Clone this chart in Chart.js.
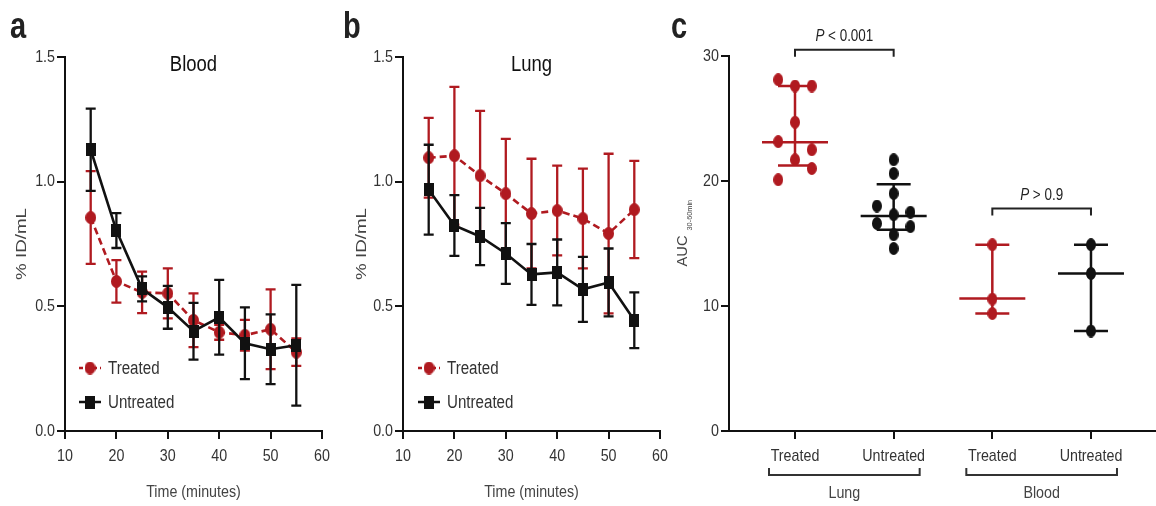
<!DOCTYPE html>
<html><head><meta charset="utf-8">
<script src="https://cdn.jsdelivr.net/npm/chart.js@4.4.1/dist/chart.umd.min.js"></script>
<style>
html,body{margin:0;padding:0;background:#fff;width:1156px;height:506px;overflow:hidden;}
#wrap{position:relative;width:1156px;height:506px;}
canvas{position:absolute;left:0;top:0;}
.lbl{position:absolute;font-family:"Liberation Sans",Arial,sans-serif;font-weight:bold;font-size:29px;line-height:30px;color:#222;transform:scaleY(1.3);transform-origin:top left;}
</style></head>
<body><div id="wrap">
<canvas id="ca" width="1156" height="506"></canvas>
<canvas id="cb" width="1156" height="506"></canvas>
<canvas id="cc" width="1156" height="506"></canvas>
<div class="lbl" style="left:10px;top:5px">a</div>
<div class="lbl" style="left:343px;top:5px">b</div>
<div class="lbl" style="left:671px;top:5px">c</div>
</div>
<script>
// ---------- DATA ----------
const timeMinutes = [15, 20, 25, 30, 35, 40, 45, 50, 55];
const timeTicks = [10, 20, 30, 40, 50, 60];
const pctTicks = [0.0, 0.5, 1.0, 1.5];

const bloodTreatedMean   = [0.856, 0.600, 0.556, 0.552, 0.444, 0.396, 0.384, 0.408, 0.316];
const bloodTreatedErr    = [0.186, 0.085, 0.083, 0.100, 0.108, 0.030, 0.062, 0.160, 0.055];
const bloodUntreatedMean = [1.128, 0.804, 0.570, 0.496, 0.400, 0.456, 0.352, 0.328, 0.344];
const bloodUntreatedErr  = [0.165, 0.070, 0.050, 0.086, 0.114, 0.150, 0.144, 0.140, 0.242];

const lungTreatedMean    = [1.096, 1.104, 1.024, 0.952, 0.872, 0.884, 0.852, 0.792, 0.888];
const lungTreatedErr     = [0.160, 0.276, 0.260, 0.220, 0.220, 0.180, 0.200, 0.320, 0.195];
const lungUntreatedMean  = [0.968, 0.824, 0.780, 0.712, 0.628, 0.636, 0.568, 0.596, 0.444];
const lungUntreatedErr   = [0.180, 0.122, 0.115, 0.122, 0.122, 0.132, 0.130, 0.136, 0.112];

const aucGroups = ['Treated', 'Untreated', 'Treated', 'Untreated'];
const aucOrgans = ['Lung', 'Blood'];
const aucTicks = [0, 10, 20, 30];
const aucLungTreated    = [28.1, 27.6, 27.6, 24.7, 23.15, 22.5, 21.7, 21.0, 20.1];
const aucLungUntreated  = [21.7, 20.6, 19.0, 18.0, 17.3, 16.6, 17.5, 16.35, 15.7, 14.6];
const aucBloodTreated   = [14.9, 10.55, 9.4];
const aucBloodUntreated = [14.9, 12.6, 8.0];
const aucMedian = [23.1, 17.2, 10.6, 12.6];
const aucLower  = [21.25, 16.1, 9.4, 8.0];
const aucUpper  = [27.6, 19.75, 14.9, 14.9];
const pValueText = ['< 0.001', '> 0.9'];

// ---------- LAYOUT / STYLE ----------
const lungTreatedLane   = [-1, 0, 1, 0, -1, 1, 0, 1, -1];
const lungUntreatedLane = [0, 0, 0, -1, 0, -1, 1, 1, 0, 0];
const bloodLane = [0, 0, 0];
const LANE = 0.17;
const RED = '#b01a20';
const BLK = '#111111';
const TXT = '#333333';
const FONT = '"Liberation Sans",Arial,sans-serif';
const NARROW = 0.84;     // condensed look of horizontal text
const ROT_STRETCH = 1.25; // rotated labels look elongated
Chart.defaults.font.family = FONT;
Chart.defaults.color = TXT;

// Condensed rendering of canvas text (the reference uses a narrow face).
const _fillText = CanvasRenderingContext2D.prototype.fillText;
CanvasRenderingContext2D.prototype.fillText = function (t, x, y, mw) {
  const m = this.getTransform();
  const rotated = Math.abs(m.b) > Math.abs(m.a);
  const sx = rotated ? (this.__rotStretch || ROT_STRETCH) : NARROW;
  this.save();
  this.translate(x, y);
  this.scale(sx, 1);
  if (mw === undefined) _fillText.call(this, t, 0, 0);
  else _fillText.call(this, t, 0, 0, mw / sx);
  this.restore();
};

function makeMarker(shape, w, h, color) {
  const c = document.createElement('canvas');
  c.width = w; c.height = h;
  const g = c.getContext('2d');
  g.fillStyle = color;
  if (shape === 'ellipse') { g.beginPath(); g.ellipse(w/2, h/2, w/2, h/2, 0, 0, Math.PI*2); g.fill(); }
  else g.fillRect(0, 0, w, h);
  return c;
}
const redDot = makeMarker('ellipse', 11, 13, RED);
const blkSq = makeMarker('rect', 10, 13, BLK);
const redDotC = makeMarker('ellipse', 10, 13, RED);
const blkDotC = makeMarker('ellipse', 10, 13, BLK);

const errorBars = {
  id: 'errorBars',
  beforeDatasetDraw(chart, args) {
    const ds = chart.data.datasets[args.index];
    if (!ds.errors) return;
    const {ctx} = chart; const xs = chart.scales.x, ys = chart.scales.y;
    ctx.save();
    ctx.strokeStyle = ds.borderColor; ctx.lineWidth = 2.3; ctx.setLineDash([]);
    ds.data.forEach((p, i) => {
      const x = xs.getPixelForValue(p.x);
      const yt = ys.getPixelForValue(p.y + ds.errors[i]);
      const yb = ys.getPixelForValue(p.y - ds.errors[i]);
      ctx.beginPath();
      ctx.moveTo(x, yt); ctx.lineTo(x, yb);
      ctx.moveTo(x - 5, yt); ctx.lineTo(x + 5, yt);
      ctx.moveTo(x - 5, yb); ctx.lineTo(x + 5, yb);
      ctx.stroke();
    });
    ctx.restore();
  }
};

const panelDecor = {
  id: 'panelDecor',
  afterDraw(chart, args, opts) {
    const {ctx, chartArea: ca} = chart;
    ctx.save();
    ctx.fillStyle = '#111';
    ctx.font = '22px ' + FONT;
    ctx.textAlign = 'center'; ctx.textBaseline = 'alphabetic';
    ctx.fillText(opts.title, (ca.left + ca.right) / 2, ca.top + 14);
    const lx = ca.left + opts.legendDx;
    const rows = [
      {y: ca.bottom - 63, color: RED, dash: [4, 3], marker: redDot, text: 'Treated'},
      {y: ca.bottom - 29, color: BLK, dash: [], marker: blkSq, text: 'Untreated'}
    ];
    ctx.font = '18px ' + FONT; ctx.textAlign = 'left'; ctx.textBaseline = 'middle';
    rows.forEach(r => {
      ctx.strokeStyle = r.color; ctx.lineWidth = 2.5; ctx.setLineDash(r.dash);
      ctx.beginPath(); ctx.moveTo(lx, r.y); ctx.lineTo(lx + 22, r.y); ctx.stroke();
      ctx.setLineDash([]);
      ctx.drawImage(r.marker, lx + 11 - r.marker.width / 2, r.y - r.marker.height / 2);
      ctx.fillStyle = TXT;
      ctx.fillText(r.text, lx + 29, r.y + 1);
    });
    ctx.restore();
  }
};

function axisCommon() {
  return {
    grid: {display: true, drawOnChartArea: false, drawTicks: true, tickLength: 8, color: BLK, lineWidth: 2},
    border: {display: true, color: BLK, width: 2}
  };
}

function timeChart(id, title, tMean, tErr, uMean, uErr, padLeft, yWidth, right, legendDx) {
  return new Chart(document.getElementById(id), {
    type: 'line',
    data: {datasets: [
      {label: 'Treated', data: timeMinutes.map((t, i) => ({x: t, y: tMean[i]})), errors: tErr,
       borderColor: RED, backgroundColor: RED, borderWidth: 2.6, borderDash: [7, 4],
       pointStyle: redDot, pointRadius: 6, tension: 0, order: 1},
      {label: 'Untreated', data: timeMinutes.map((t, i) => ({x: t, y: uMean[i]})), errors: uErr,
       borderColor: BLK, backgroundColor: BLK, borderWidth: 2.6,
       pointStyle: blkSq, pointRadius: 6, tension: 0, order: 0}
    ]},
    options: {
      responsive: false, animation: false, events: [],
      layout: {autoPadding: false, padding: {left: padLeft, top: 57, right: 1156 - right, bottom: 0}},
      plugins: {legend: {display: false}, tooltip: {enabled: false},
                panelDecor: {title: title, legendDx: legendDx}},
      scales: {
        x: Object.assign(axisCommon(), {
          type: 'linear', min: 10, max: 60,
          afterBuildTicks: s => { s.ticks = timeTicks.map(v => ({value: v})); },
          afterFit: s => { s.height = 75; s.paddingLeft = 0; s.paddingRight = 0; },
          ticks: {font: {size: 17}, color: TXT, padding: 7, callback: v => String(v), maxRotation: 0},
          title: {display: true, text: 'Time (minutes)', font: {size: 17}, color: '#444', padding: {top: 0, bottom: 3}}
        }),
        y: Object.assign(axisCommon(), {
          type: 'linear', min: 0, max: 1.5,
          afterBuildTicks: s => { s.ticks = pctTicks.map(v => ({value: v})); },
          afterFit: s => { s.width = yWidth; },
          ticks: {font: {size: 17}, color: TXT, padding: 2, callback: v => Number(v).toFixed(1)},
          title: {display: true, text: '% ID/mL', font: {size: 15}, color: '#444', padding: {top: 13, bottom: 0}}
        })
      }
    },
    plugins: [errorBars, panelDecor]
  });
}

timeChart('ca', 'Blood', bloodTreatedMean, bloodTreatedErr, bloodUntreatedMean, bloodUntreatedErr, 0, 65, 322, 14);
timeChart('cb', 'Lung', lungTreatedMean, lungTreatedErr, lungUntreatedMean, lungUntreatedErr, 340, 63, 660, 15);

// ---------- PANEL C ----------
function groupPoints(vals, lanes, g) {
  return vals.map((v, i) => ({x: g + 1 + lanes[i] * LANE, y: v}));
}
const aucColors = [RED, BLK, RED, BLK];

const aucSummary = {
  id: 'aucSummary',
  beforeDatasetsDraw(chart) {
    const {ctx} = chart; const xs = chart.scales.x, ys = chart.scales.y;
    ctx.save(); ctx.lineWidth = 2.5;
    aucMedian.forEach((m, g) => {
      const x = xs.getPixelForValue(g + 1);
      const ym = ys.getPixelForValue(m), yl = ys.getPixelForValue(aucLower[g]), yu = ys.getPixelForValue(aucUpper[g]);
      ctx.strokeStyle = aucColors[g];
      ctx.beginPath();
      ctx.moveTo(x - 33, ym); ctx.lineTo(x + 33, ym);
      ctx.moveTo(x - 17, yl); ctx.lineTo(x + 17, yl);
      ctx.moveTo(x - 17, yu); ctx.lineTo(x + 17, yu);
      ctx.moveTo(x, yu); ctx.lineTo(x, yl);
      ctx.stroke();
    });
    ctx.restore();
  },
  afterDraw(chart) {
    const {ctx, chartArea: ca} = chart; const xs = chart.scales.x, ys = chart.scales.y;
    ctx.save();
    const sig = [{a: 1, b: 2, v: 30.5, t: pValueText[0]}, {a: 3, b: 4, v: 17.8, t: pValueText[1]}];
    ctx.strokeStyle = '#222'; ctx.lineWidth = 2;
    sig.forEach(s => {
      const x1 = xs.getPixelForValue(s.a), x2 = xs.getPixelForValue(s.b), y = ys.getPixelForValue(s.v);
      ctx.beginPath();
      ctx.moveTo(x1, y + 7); ctx.lineTo(x1, y); ctx.lineTo(x2, y); ctx.lineTo(x2, y + 7);
      ctx.stroke();
      const cx = (x1 + x2) / 2;
      ctx.textBaseline = 'alphabetic';
      ctx.font = 'italic 16px ' + FONT;
      const pw = ctx.measureText('P').width * NARROW;
      ctx.font = '16px ' + FONT;
      const tw = ctx.measureText(' ' + s.t).width * NARROW;
      const sx = cx - (pw + tw) / 2;
      ctx.fillStyle = '#222'; ctx.textAlign = 'left';
      ctx.font = 'italic 16px ' + FONT;
      ctx.fillText('P', sx, y - 9);
      ctx.font = '16px ' + FONT;
      ctx.fillText(' ' + s.t, sx + pw, y - 9);
    });
    ctx.strokeStyle = '#333'; ctx.lineWidth = 2;
    aucOrgans.forEach((o, k) => {
      const x1 = xs.getPixelForValue(2 * k + 1) - 26, x2 = xs.getPixelForValue(2 * k + 2) + 26;
      const y = ca.bottom + 44;
      ctx.beginPath();
      ctx.moveTo(x1, y - 7); ctx.lineTo(x1, y); ctx.lineTo(x2, y); ctx.lineTo(x2, y - 7);
      ctx.stroke();
      ctx.fillStyle = '#444'; ctx.font = '17px ' + FONT; ctx.textAlign = 'center'; ctx.textBaseline = 'middle';
      ctx.fillText(o, (x1 + x2) / 2, ca.bottom + 62);
    });
    // y title: AUC with subscript
    ctx.translate(ca.left - 46, (ca.top + ca.bottom) / 2 - 11);
    ctx.rotate(-Math.PI / 2);
    ctx.__rotStretch = 1.05;
    ctx.fillStyle = '#444'; ctx.textAlign = 'left'; ctx.textBaseline = 'middle';
    ctx.font = '14px ' + FONT;
    const aw = ctx.measureText('AUC').width * 1.05;
    ctx.fillText('AUC', -34, 0);
    ctx.font = '7px ' + FONT;
    ctx.fillText('30-60min', -34 + aw + 5, 7);
    ctx.__rotStretch = 0;
    ctx.restore();
  }
};

new Chart(document.getElementById('cc'), {
  type: 'scatter',
  data: {datasets: [
    {label: 'Lung Treated', data: groupPoints(aucLungTreated, lungTreatedLane, 0), pointStyle: redDotC, pointRadius: 6, backgroundColor: RED, borderColor: RED},
    {label: 'Lung Untreated', data: groupPoints(aucLungUntreated, lungUntreatedLane, 1), pointStyle: blkDotC, pointRadius: 6, backgroundColor: BLK, borderColor: BLK},
    {label: 'Blood Treated', data: groupPoints(aucBloodTreated, bloodLane, 2), pointStyle: redDotC, pointRadius: 6, backgroundColor: RED, borderColor: RED},
    {label: 'Blood Untreated', data: groupPoints(aucBloodUntreated, bloodLane, 3), pointStyle: blkDotC, pointRadius: 6, backgroundColor: BLK, borderColor: BLK}
  ]},
  options: {
    responsive: false, animation: false, events: [],
    layout: {autoPadding: false, padding: {left: 670, top: 56, right: 0, bottom: 0}},
    plugins: {legend: {display: false}, tooltip: {enabled: false}},
    scales: {
      x: Object.assign(axisCommon(), {
        type: 'linear', min: 0.331, max: 4.659,
        afterBuildTicks: s => { s.ticks = aucGroups.map((g, i) => ({value: i + 1})); },
        afterFit: s => { s.height = 75; s.paddingLeft = 0; s.paddingRight = 0; },
        ticks: {font: {size: 17}, color: TXT, padding: 7, maxRotation: 0, autoSkip: false,
                callback: v => aucGroups[Math.round(v) - 1]}
      }),
      y: Object.assign(axisCommon(), {
        type: 'linear', min: 0, max: 30,
        afterBuildTicks: s => { s.ticks = aucTicks.map(v => ({value: v})); },
        afterFit: s => { s.width = 59; },
        ticks: {font: {size: 17}, color: TXT, padding: 2, callback: v => String(v)}
      })
    }
  },
  plugins: [aucSummary]
});
</script>
</body></html>
